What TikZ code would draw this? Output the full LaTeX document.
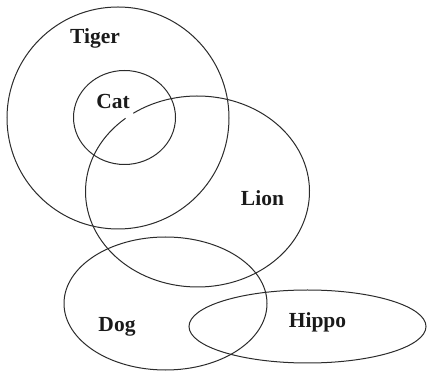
\documentclass[tikz,border=0pt]{standalone}
\usepackage{fontspec}
\setmainfont{Liberation Serif}
\usetikzlibrary{positioning}
\definecolor{vnInk}{HTML}{1A1A1A}
\definecolor{vnLine}{HTML}{2B2B2B}
\begin{document}
\begin{tikzpicture}[x=1pt,y=1pt,
    setline/.style={draw=vnLine,line width=1pt},
    setlabel/.style={text=vnInk,font=\fontsize{21.5}{24}\selectfont\bfseries,inner sep=0pt}]
    \useasboundingbox (0,0) rectangle (427,371);

    % the five sets
    \draw[setline] (118,253) circle[radius=111];
    \draw[setline] (124.5,253.5) ellipse[x radius=51,y radius=47];
    \draw[setline] (197.5,179.5) ++(130:112 and 95.5)
      arc[start angle=130,end angle=485,x radius=112,y radius=95.5];
    \draw[setline] (165.5,67.5) ellipse[x radius=101.5,y radius=66.5];
    \draw[setline] (307.5,44.5) ellipse[x radius=118.5,y radius=36.5];

    % labels
    \node[setlabel] (tiger) at (95,332.5) {Tiger};
    \node[setlabel] (cat)   at (113,269.5) {Cat};
    \node[setlabel] (lion)  at (262.5,172.5) {Lion};
    \node[setlabel] (dog)   at (117,44.5) {Dog};
    \node[setlabel] (hippo) at (317.5,48.5) {Hippo};
\end{tikzpicture}
\end{document}
